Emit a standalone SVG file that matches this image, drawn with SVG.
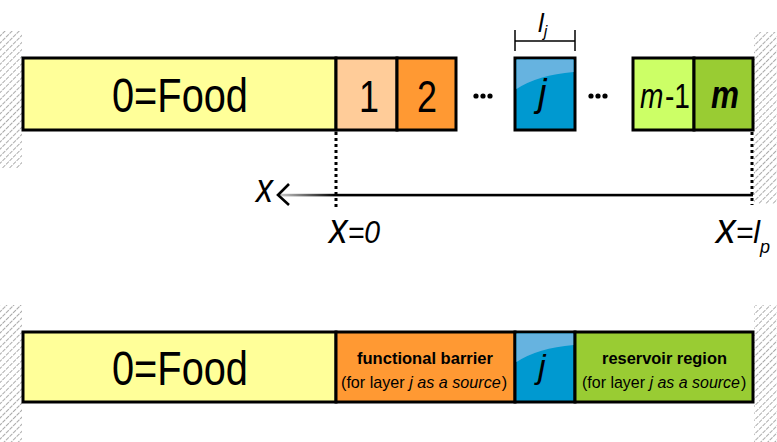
<svg xmlns="http://www.w3.org/2000/svg" width="777" height="442" viewBox="0 0 777 442">
<defs>
<pattern id="hatch" width="5" height="5" patternUnits="userSpaceOnUse" patternTransform="rotate(45)">
<line x1="0" y1="0" x2="0" y2="5" stroke="#666" stroke-width="1.1" stroke-dasharray="2,1"/>
</pattern>
<linearGradient id="fade" gradientUnits="userSpaceOnUse" x1="280" y1="0" x2="335" y2="0">
<stop offset="0" stop-color="#c8c8c8"/>
<stop offset="1" stop-color="#000"/>
</linearGradient>
</defs>
<style>
.box{stroke:#000;stroke-width:3}
.f{font-family:"Liberation Sans",Arial,sans-serif;fill:#000}
.it{font-style:italic}
.bold{font-size:17px;font-weight:bold}
.sub{font-size:17px}
.dot{stroke:#000;stroke-width:3;stroke-dasharray:3,3;fill:none}
</style>
<g id="walls">
<rect x="0" y="31" width="22" height="137" fill="url(#hatch)"/>
<rect x="754" y="32" width="23" height="172" fill="url(#hatch)"/>
<rect x="0" y="305" width="22" height="137" fill="url(#hatch)"/>
<rect x="754" y="305" width="23" height="137" fill="url(#hatch)"/>
</g>
<g id="food-top">
<rect class="box" x="23" y="58" width="313" height="72" fill="#FFFF99"/>
<text class="f" x="112" y="112" font-size="48" textLength="136" lengthAdjust="spacingAndGlyphs">0=Food</text>
</g>
<g id="layer1">
<rect class="box" x="336" y="58" width="61" height="72" fill="#FFCC99"/>
<text class="f" x="359" y="112" font-size="45" textLength="20" lengthAdjust="spacingAndGlyphs">1</text>
</g>
<g id="layer2">
<rect class="box" x="397" y="58" width="59" height="72" fill="#FF9933"/>
<text class="f" x="417" y="112" font-size="45" textLength="20" lengthAdjust="spacingAndGlyphs">2</text>
</g>
<g id="dots1">
<circle cx="476" cy="96" r="2.6"/><circle cx="483" cy="96" r="2.6"/><circle cx="490" cy="96" r="2.6"/>
</g>
<g id="layerj">
<rect class="box" x="515" y="58" width="60" height="72" fill="#0099D0"/>
<path d="M516.5,59.5 H573.5 V72 Q538,75 516.5,89 Z" fill="#66B3E0"/>
<text class="f it" x="538" y="106" font-size="38">j</text>
</g>
<g id="dots2">
<circle cx="591" cy="96" r="2.6"/><circle cx="598" cy="96" r="2.6"/><circle cx="605" cy="96" r="2.6"/>
</g>
<g id="layerm1">
<rect class="box" x="633" y="58" width="61" height="72" fill="#CCFF66"/>
<text class="f" transform="translate(640,108) scale(0.78,1)" font-size="36"><tspan font-style="italic">m</tspan><tspan dx="2">-1</tspan></text>
</g>
<g id="layerm">
<rect class="box" x="694" y="58" width="59" height="72" fill="#99CC33"/>
<text class="f it" x="711" y="108" font-size="38" font-weight="bold" textLength="28" lengthAdjust="spacingAndGlyphs">m</text>
</g>
<g id="dim-lj">
<line x1="515" y1="41" x2="575" y2="41" stroke="#000" stroke-width="1.5"/>
<line x1="515" y1="30" x2="515" y2="51" stroke="#000" stroke-width="1.5"/>
<line x1="575" y1="30" x2="575" y2="51" stroke="#000" stroke-width="1.5"/>
<text class="f it" x="538" y="32" font-size="26">l<tspan font-size="16" dy="5">j</tspan></text>
</g>
<g id="connectors">
<line class="dot" x1="336" y1="132" x2="336" y2="207"/>
<line class="dot" x1="752" y1="132" x2="752" y2="205"/>
<rect x="279" y="193.8" width="474" height="2.6" fill="url(#fade)"/>
<path d="M289,184 L278,195 L289,205" fill="none" stroke="#000" stroke-width="2.6"/>
</g>
<g id="axis-labels">
<text class="f it" x="256" y="202" font-size="40" textLength="17" lengthAdjust="spacingAndGlyphs">x</text>
<text class="f it" x="329" y="243" font-size="32" textLength="51" lengthAdjust="spacingAndGlyphs"><tspan font-size="42">x</tspan>=0</text>
<text class="f it" x="716" y="243" font-size="32" textLength="44" lengthAdjust="spacingAndGlyphs"><tspan font-size="42">x</tspan>=l</text>
<text class="f it" x="760" y="253" font-size="18">p</text>
</g>
<g id="food-bottom">
<rect class="box" x="23" y="332" width="313" height="70" fill="#FFFF99"/>
<text class="f" x="112" y="385" font-size="48" textLength="136" lengthAdjust="spacingAndGlyphs">0=Food</text>
</g>
<g id="barrier">
<rect class="box" x="336" y="332" width="179" height="70" fill="#FF9933"/>
<text class="f bold" x="357" y="364" textLength="136" lengthAdjust="spacingAndGlyphs">functional barrier</text>
<text class="f sub" transform="translate(341,388) scale(0.95,1)">(for layer <tspan font-style="italic">j as a source</tspan><tspan dx="1">)</tspan></text>
</g>
<g id="layerj-bottom">
<rect class="box" x="515" y="332" width="60" height="70" fill="#0099D0"/>
<path d="M516.5,333.5 H573.5 V345 Q538,348 516.5,362 Z" fill="#66B3E0"/>
<text class="f it" x="538" y="378" font-size="34">j</text>
</g>
<g id="reservoir">
<rect class="box" x="575" y="332" width="178" height="70" fill="#99CC33"/>
<text class="f bold" x="602" y="364" textLength="125" lengthAdjust="spacingAndGlyphs">reservoir region</text>
<text class="f sub" transform="translate(582,388) scale(0.94,1)">(for layer <tspan font-style="italic">j as a source</tspan><tspan dx="1">)</tspan></text>
</g>
</svg>
